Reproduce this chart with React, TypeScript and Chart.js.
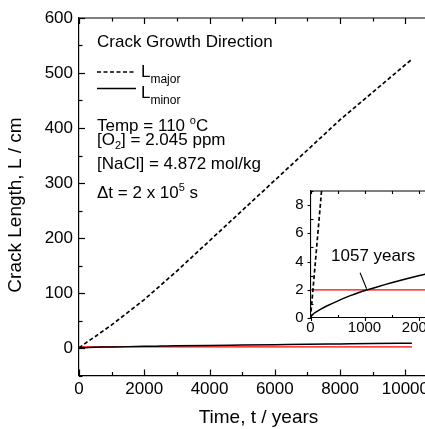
import React, { useEffect, useRef } from "react";
import { Chart, registerables } from "chart.js";

Chart.register(...registerables);

const FONT = "'Liberation Sans', Arial, Helvetica, sans-serif";

// ---- data ----
const majorYears = [0, 50, 100, 150, 200, 250, 500, 1000, 2000, 3000, 4000, 5000, 6000, 7000, 8000, 9000, 10200];
const majorLength = [0, 2.2, 4.4, 6.6, 8.8, 11, 21, 42, 88, 140, 195, 250, 305, 360, 415, 465, 525];
const minorYears = [0, 20, 50, 100, 200, 300, 500, 750, 1057, 1500, 2000, 2500, 3000, 4000, 5000, 6000, 7000, 8000, 9000, 10200];
const minorLength = [0, 0.15, 0.28, 0.42, 0.65, 0.85, 1.2, 1.6, 2.0, 2.5, 3.0, 3.45, 3.9, 4.7, 5.4, 6.1, 6.8, 7.4, 8.0, 8.6];
const limitYears = [0, 10200];
const limitLength = [2, 2];
const crossingYear = 1057;
const crossingLength = 2;
const crossingLabel = "1057 years";

const mainXLabels = [0, 2000, 4000, 6000, 8000, 10000];
const mainYLabels = [0, 100, 200, 300, 400, 500, 600];
const insetXLabels = [0, 1000, 2000];
const insetYLabels = [0, 2, 4, 6, 8];

const xTitle = "Time, t / years";
const yTitle = "Crack Length, L / cm";

const zip = (xs: number[], ys: number[]) => xs.map((x, i) => ({ x, y: ys[i] }));

function makeDatasets() {
  return [
    {
      label: "L_major",
      data: zip(majorYears, majorLength),
      showLine: true,
      borderColor: "#000",
      borderWidth: 1.7,
      borderDash: [4, 2.5],
      pointRadius: 0,
      tension: 0,
    },
    {
      label: "L_minor",
      data: zip(minorYears, minorLength),
      showLine: true,
      borderColor: "#000",
      borderWidth: 1.5,
      pointRadius: 0,
      tension: 0.3,
      cubicInterpolationMode: "monotone",
    },
    {
      label: "limit",
      data: zip(limitYears, limitLength),
      showLine: true,
      borderColor: "#ff0000",
      borderWidth: 1.3,
      pointRadius: 0,
      tension: 0,
    },
  ];
}

function line(ctx: CanvasRenderingContext2D, x1: number, y1: number, x2: number, y2: number) {
  ctx.beginPath();
  ctx.moveTo(x1, y1);
  ctx.lineTo(x2, y2);
  ctx.stroke();
}

function drawRich(ctx: CanvasRenderingContext2D, x: number, y: number, parts: [string, number, number][]) {
  let cx = x;
  for (const [txt, size, dy] of parts) {
    ctx.font = `${size}px ${FONT}`;
    ctx.fillText(txt, cx, y + dy);
    cx += ctx.measureText(txt).width;
  }
}

function fixSize(prop: "width" | "height", size: number) {
  return (s: any) => {
    s[prop] = size;
    s.paddingTop = 0;
    s.paddingBottom = 0;
    s.paddingLeft = 0;
    s.paddingRight = 0;
  };
}

const mainPlugin = {
  id: "mainDecor",
  afterDraw(chart: any) {
    const ctx: CanvasRenderingContext2D = chart.ctx;
    const { left, right, top, bottom } = chart.chartArea;
    const xs = chart.scales.x;
    const ys = chart.scales.y;
    ctx.save();
    ctx.strokeStyle = "#000";
    ctx.lineWidth = 1.2;
    line(ctx, left, top, right, top);
    xs.ticks.forEach((t: any) => {
      const px = Math.round(xs.getPixelForValue(t.value)) + 0.5;
      const len = t.label !== "" ? 6 : 3.5;
      line(ctx, px, bottom, px, bottom - len);
      line(ctx, px, top, px, top + len);
    });
    ys.ticks.forEach((t: any) => {
      const py = Math.round(ys.getPixelForValue(t.value)) + 0.5;
      const len = t.label !== "" ? 6 : 3.5;
      line(ctx, left, py, left + len, py);
    });

    // axis titles
    ctx.fillStyle = "#000";
    ctx.font = `19px ${FONT}`;
    ctx.textAlign = "center";
    ctx.textBaseline = "middle";
    ctx.fillText(xTitle, (left + right) / 2, 418);
    ctx.save();
    ctx.translate(16, 205);
    ctx.rotate(-Math.PI / 2);
    ctx.fillText(yTitle, 0, 0);
    ctx.restore();

    // legend / notes
    ctx.textAlign = "left";
    ctx.textBaseline = "alphabetic";
    const tx = 97;
    drawRich(ctx, tx, 47, [["Crack Growth Direction", 17, 0]]);
    ctx.lineWidth = 1.3;
    ctx.setLineDash([4, 2.5]);
    line(ctx, tx, 72, 136, 72);
    ctx.setLineDash([]);
    line(ctx, tx, 88.5, 136, 88.5);
    drawRich(ctx, 141, 77, [["L", 17, 0], ["major", 12, 6]]);
    drawRich(ctx, 141, 98, [["L", 17, 0], ["minor", 12, 6]]);
    drawRich(ctx, tx, 131, [["Temp = 110 ", 17, 0], ["o", 11, -7], ["C", 17, 0]]);
    drawRich(ctx, tx, 145, [["[O", 17, 0], ["2", 11, 4], ["] = 2.045 ppm", 17, 0]]);
    drawRich(ctx, tx, 169, [["[NaCl] = 4.872 mol/kg", 17, 0]]);
    drawRich(ctx, tx, 198, [["\u0394t = 2 x 10", 17, 0], ["5", 11, -7], [" s", 17, 0]]);
    ctx.restore();
  },
};

const insetPlugin = {
  id: "insetDecor",
  beforeDraw(chart: any) {
    const ctx: CanvasRenderingContext2D = chart.ctx;
    const { left, right, top, bottom } = chart.chartArea;
    ctx.save();
    ctx.fillStyle = "#fff";
    ctx.fillRect(left, top, right - left, bottom - top);
    ctx.restore();
  },
  afterDraw(chart: any) {
    const ctx: CanvasRenderingContext2D = chart.ctx;
    const { left, right, top, bottom } = chart.chartArea;
    const xs = chart.scales.x;
    const ys = chart.scales.y;
    ctx.save();
    ctx.strokeStyle = "#000";
    ctx.lineWidth = 1.1;
    line(ctx, left, top, right, top);
    xs.ticks.forEach((t: any) => {
      const px = Math.round(xs.getPixelForValue(t.value)) + 0.5;
      if (t.label !== "") line(ctx, px, bottom, px, bottom + 3);
      else line(ctx, px, bottom, px, bottom - 3);
      line(ctx, px, top, px, top + 3);
    });
    ys.ticks.forEach((t: any) => {
      const py = Math.round(ys.getPixelForValue(t.value)) + 0.5;
      if (t.label !== "") line(ctx, left, py, left - 3, py);
      else line(ctx, left, py, left + 3, py);
    });
    // annotation
    const cx = xs.getPixelForValue(crossingYear);
    const cy = ys.getPixelForValue(crossingLength);
    ctx.lineWidth = 1.1;
    line(ctx, cx - 7.5, cy - 17, cx - 1, cy - 1);
    ctx.fillStyle = "#000";
    ctx.font = `17px ${FONT}`;
    ctx.textAlign = "center";
    ctx.fillText(crossingLabel, cx + 5.5, cy - 29);
    ctx.restore();
  },
};

export default function App() {
  const mainRef = useRef<HTMLCanvasElement | null>(null);
  const insetRef = useRef<HTMLCanvasElement | null>(null);

  useEffect(() => {
    const tickFont = { family: FONT, size: 17 };
    const main = new Chart(mainRef.current!, {
      type: "scatter",
      data: { datasets: makeDatasets() as any },
      options: {
        responsive: false,
        animation: false,
        layout: { padding: { top: 18, right: 2, left: 0, bottom: 0 } },
        plugins: { legend: { display: false }, tooltip: { enabled: false } },
        scales: {
          x: {
            type: "linear",
            min: 0,
            max: 11000,
            grid: { display: false, drawTicks: false },
            border: { display: true, color: "#000", width: 1.2 },
            ticks: {
              stepSize: 1000,
              autoSkip: false,
              maxRotation: 0,
              padding: 4,
              color: "#000",
              font: tickFont,
              callback: (v: any) => (mainXLabels.includes(Number(v)) ? String(v) : ""),
            },
            afterFit: fixSize("height", 53.5),
          },
          y: {
            type: "linear",
            min: -50,
            max: 600,
            grid: { display: false, drawTicks: false },
            border: { display: true, color: "#000", width: 1.2 },
            ticks: {
              stepSize: 50,
              autoSkip: false,
              padding: 6,
              color: "#000",
              font: tickFont,
              callback: (v: any) => (mainYLabels.includes(Number(v)) ? String(v) : ""),
            },
            afterFit: fixSize("width", 79),
          },
        },
      } as any,
      plugins: [mainPlugin],
    });

    const insetFont = { family: FONT, size: 15 };
    const inset = new Chart(insetRef.current!, {
      type: "scatter",
      data: { datasets: makeDatasets() as any },
      options: {
        responsive: false,
        animation: false,
        layout: { padding: { top: 8, right: 4.5, left: 0, bottom: 0 } },
        plugins: { legend: { display: false }, tooltip: { enabled: false } },
        scales: {
          x: {
            type: "linear",
            min: 0,
            max: 2500,
            grid: { display: false, drawTicks: false },
            border: { display: true, color: "#000", width: 1.1 },
            ticks: {
              stepSize: 500,
              autoSkip: false,
              maxRotation: 0,
              padding: 1,
              color: "#000",
              font: insetFont,
              callback: (v: any) => (insetXLabels.includes(Number(v)) ? String(v) : ""),
            },
            afterFit: fixSize("height", 25),
          },
          y: {
            type: "linear",
            min: 0,
            max: 9,
            grid: { display: false, drawTicks: false },
            border: { display: true, color: "#000", width: 1.1 },
            ticks: {
              stepSize: 1,
              autoSkip: false,
              padding: 7,
              color: "#000",
              font: insetFont,
              callback: (v: any) => (insetYLabels.includes(Number(v)) ? String(v) : ""),
            },
            afterFit: fixSize("width", 20.5),
          },
        },
      } as any,
      plugins: [insetPlugin],
    });

    return () => {
      main.destroy();
      inset.destroy();
    };
  }, []);

  return (
    <div
      style={{
        position: "fixed",
        left: 0,
        top: 0,
        width: 425,
        height: 429,
        overflow: "hidden",
        background: "#fff",
      }}
    >
      <canvas
        ref={mainRef}
        width={440}
        height={429}
        style={{ position: "absolute", left: 0, top: 0, width: 440, height: 429 }}
      />
      <canvas
        ref={insetRef}
        width={160}
        height={160}
        style={{ position: "absolute", left: 290, top: 183, width: 160, height: 160 }}
      />
    </div>
  );
}
